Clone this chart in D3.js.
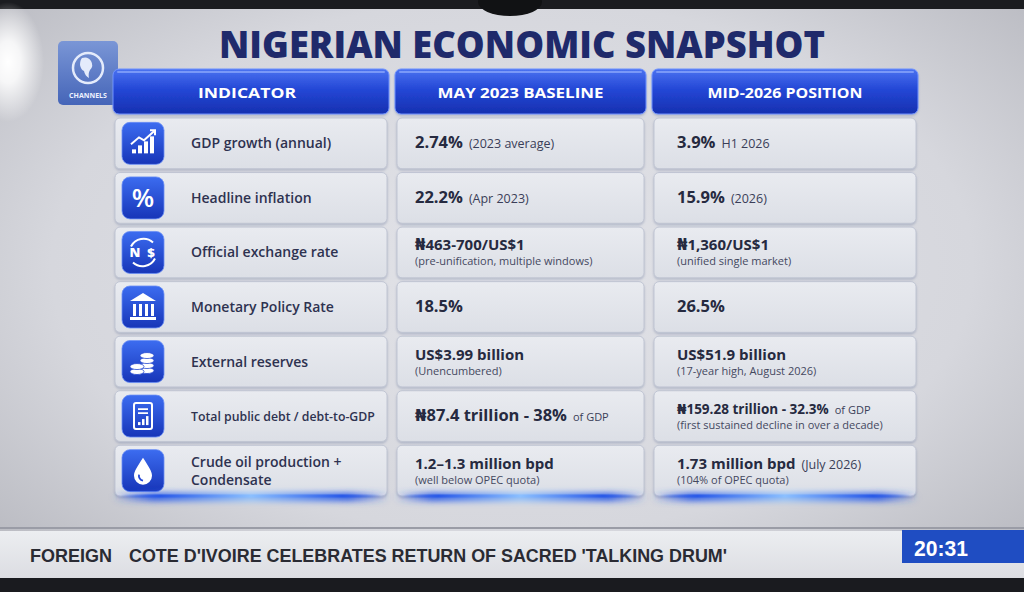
<!DOCTYPE html>
<html>
<head>
<meta charset="utf-8">
<script src="https://cdn.jsdelivr.net/npm/d3@7"></script>
<style>
  html, body { margin: 0; padding: 0; background: #16171a; }
  svg { display: block; }
</style>
</head>
<body>
<svg id="snap"></svg>
<script>
/* Nigerian economic snapshot table, drawn with d3. */
var columns = ["INDICATOR", "MAY 2023 BASELINE", "MID-2026 POSITION"];
var indicators = [
  ["GDP growth (annual)"],
  ["Headline inflation"],
  ["Official exchange rate"],
  ["Monetary Policy Rate"],
  ["External reserves"],
  ["Total public debt / debt-to-GDP"],
  ["Crude oil production +", "Condensate"]
];
var iconKinds = ["chart", "pct", "fx", "bank", "coins", "doc", "drop"];

var baselineMain = ["2.74%", "22.2%", "\u20A6463-700/US$1", "18.5%", "US$3.99 billion", "\u20A687.4 trillion - 38%", "1.2\u20131.3 million bpd"];
var baselineInline = ["(2023 average)", "(Apr 2023)", "", "", "", "of GDP", ""];
var baselineSub = ["", "", "(pre-unification, multiple windows)", "", "(Unencumbered)", "", "(well below OPEC quota)"];

var positionMain = ["3.9%", "15.9%", "\u20A61,360/US$1", "26.5%", "US$51.9 billion", "\u20A6159.28 trillion - 32.3%", "1.73 million bpd"];
var positionInline = ["H1 2026", "(2026)", "", "", "", "of GDP", "(July 2026)"];
var positionSub = ["", "", "(unified single market)", "", "(17-year high, August 2026)", "(first sustained decline in over a decade)", "(104% of OPEC quota)"];

var tickerTag = "FOREIGN";
var tickerText = "COTE D'IVOIRE CELEBRATES RETURN OF SACRED 'TALKING DRUM'";
var clockText = "20:31";

(function () {
  var W = 1024, H = 592;
  var svg = d3.select("#snap").attr("width", W).attr("height", H)
    .attr("viewBox", [0, 0, W, H]);
  var defs = svg.append("defs");

  function linGrad(id, stops, vertical) {
    var g = defs.append("linearGradient").attr("id", id)
      .attr("x1", 0).attr("y1", 0)
      .attr("x2", vertical ? 0 : 1).attr("y2", vertical ? 1 : 0);
    stops.forEach(function (s) {
      g.append("stop").attr("offset", s[0]).attr("stop-color", s[1])
        .attr("stop-opacity", s[2] == null ? 1 : s[2]);
    });
  }
  function radGrad(id, stops, cx, cy, r) {
    var g = defs.append("radialGradient").attr("id", id)
      .attr("cx", cx).attr("cy", cy).attr("r", r);
    stops.forEach(function (s) {
      g.append("stop").attr("offset", s[0]).attr("stop-color", s[1])
        .attr("stop-opacity", s[2] == null ? 1 : s[2]);
    });
  }

  radGrad("bgGrad", [[0, "#e2e3e8"], [0.6, "#d6d7dd"], [1, "#b2b3ba"]], "50%", "45%", "75%");
  radGrad("glare", [[0, "#ffffff", 1], [0.35, "#ffffff", 0.85], [1, "#ffffff", 0]], "50%", "50%", "50%");
  linGrad("headGrad", [[0, "#4a72f0"], [0.45, "#2447d6"], [1, "#1630b0"]], true);
  linGrad("cellGrad", [[0, "#e9ebf0"], [1, "#dcdfe6"]], true);
  linGrad("iconGrad", [[0, "#3c6cf0"], [1, "#1735b8"]], true);
  linGrad("logoGrad", [[0, "#7a96d6"], [1, "#4565b8"]], true);
  linGrad("glowGrad", [[0, "#2a5ae8", 0], [0.15, "#2a5ae8", 1], [0.5, "#8cc0ff", 1], [0.85, "#2a5ae8", 1], [1, "#2a5ae8", 0]], false);
  linGrad("tickGrad", [[0, "#eceef1"], [1, "#dcdde2"]], true);

  var shadow = defs.append("filter").attr("id", "soft").attr("x", "-10%").attr("y", "-10%")
    .attr("width", "120%").attr("height", "140%");
  shadow.append("feDropShadow").attr("dx", 0).attr("dy", 1.5).attr("stdDeviation", 1.2)
    .attr("flood-color", "#7d87a6").attr("flood-opacity", 0.45);
  var blur = defs.append("filter").attr("id", "blur").attr("x", "-5%").attr("y", "-100%")
    .attr("width", "110%").attr("height", "300%");
  blur.append("feGaussianBlur").attr("stdDeviation", 3);

  // screen background
  svg.append("rect").attr("width", W).attr("height", H).attr("fill", "url(#bgGrad)");
  svg.append("rect").attr("width", W).attr("height", 9).attr("fill", "#1b1c20");
  svg.append("ellipse").attr("cx", 510).attr("cy", 2).attr("rx", 32).attr("ry", 14).attr("fill", "#111214");
  svg.append("ellipse").attr("cx", 8).attr("cy", 62).attr("rx", 36).attr("ry", 60).attr("fill", "url(#glare)");

  // title
  svg.append("text").attr("x", 522).attr("y", 58).attr("text-anchor", "middle")
    .attr("font-family", "'Open Sans', 'DejaVu Sans', sans-serif").attr("font-weight", 800)
    .attr("font-size", 37).attr("fill", "#1f2a6b")
    .attr("textLength", 606).attr("lengthAdjust", "spacingAndGlyphs")
    .text("NIGERIAN ECONOMIC SNAPSHOT");

  // channel logo
  var logo = svg.append("g").attr("transform", "translate(58,41)");
  logo.append("rect").attr("width", 60).attr("height", 64).attr("rx", 5).attr("fill", "url(#logoGrad)");
  logo.append("circle").attr("cx", 30).attr("cy", 27).attr("r", 15).attr("fill", "none")
    .attr("stroke", "#e4ebfb").attr("stroke-width", 2.5);
  logo.append("path").attr("d", "M24,17 q6,-2 9,3 q3,5 -1,9 q-2,3 -1,8 q-4,-2 -5,-7 q-3,-1 -4,-6 q0,-5 2,-7z")
    .attr("fill", "#e4ebfb");
  logo.append("text").attr("x", 30).attr("y", 57).attr("text-anchor", "middle")
    .attr("font-family", "'Open Sans', sans-serif").attr("font-weight", 700).attr("font-size", 7)
    .attr("fill", "#eef2ff").text("CHANNELS");

  // layout scales
  var colX = d3.scaleOrdinal().domain(columns).range([113, 395, 652]);
  var colW = d3.scaleOrdinal().domain(columns).range([276, 251, 266]);
  var rowIdx = d3.range(indicators.length);
  var y = d3.scaleBand().domain(rowIdx).range([118, 496]).paddingInner(0.07);

  // header row
  var headerWidths = [98, 166, 155];
  var head = svg.append("g").selectAll("g").data(columns).join("g")
    .attr("transform", function (d) { return "translate(" + colX(d) + ",69)"; });
  head.append("rect").attr("width", function (d) { return colW(d); }).attr("height", 45)
    .attr("rx", 6).attr("fill", "url(#headGrad)").attr("stroke", "#6f92ff").attr("stroke-width", 1)
    .attr("filter", "url(#soft)");
  head.append("rect").attr("x", 4).attr("y", 2).attr("width", function (d) { return colW(d) - 8; })
    .attr("height", 2).attr("rx", 1).attr("fill", "#9fb8ff").attr("opacity", 0.6);
  head.append("text")
    .attr("x", function (d, i) { return i === 0 ? 134 : colW(d) / 2; })
    .attr("y", 29).attr("text-anchor", "middle")
    .attr("font-family", "'Open Sans', 'DejaVu Sans', sans-serif").attr("font-weight", 700)
    .attr("font-size", 15).attr("fill", "#ffffff")
    .attr("textLength", function (d, i) { return headerWidths[i]; })
    .attr("lengthAdjust", "spacingAndGlyphs")
    .text(function (d) { return d; });

  // cells
  var rows = svg.append("g").selectAll("g.row").data(rowIdx).join("g").attr("class", "row")
    .attr("transform", function (d) { return "translate(0," + y(d) + ")"; });
  var bh = y.bandwidth();

  columns.forEach(function (c) {
    rows.append("rect").attr("x", colX(c) + 2).attr("width", colW(c) - 4).attr("height", bh)
      .attr("rx", 5).attr("fill", "url(#cellGrad)").attr("stroke", "#c0c5d3").attr("stroke-width", 1)
      .attr("filter", "url(#soft)");
  });

  // icons
  var iconG = rows.append("g")
    .attr("transform", function () { return "translate(122," + (bh / 2 - 21) + ")"; });
  iconG.append("rect").attr("width", 42).attr("height", 42).attr("rx", 8).attr("fill", "url(#iconGrad)")
    .attr("stroke", "#6a8ef5").attr("stroke-width", 0.8);
  iconG.each(function (d) {
    var g = d3.select(this), k = iconKinds[d], wc = "#ffffff";
    if (k === "chart") {
      [[10, 27, 4], [16, 23, 8], [22, 19, 12], [28, 14, 17]].forEach(function (b) {
        g.append("rect").attr("x", b[0]).attr("y", b[1]).attr("width", 4).attr("height", b[2]).attr("fill", wc);
      });
      g.append("path").attr("d", "M9,22 L17,15 L22,18 L32,9").attr("fill", "none")
        .attr("stroke", wc).attr("stroke-width", 2);
      g.append("path").attr("d", "M28,8 L33,8 L33,13").attr("fill", "none").attr("stroke", wc).attr("stroke-width", 2);
    } else if (k === "pct") {
      g.append("text").attr("x", 21).attr("y", 30).attr("text-anchor", "middle")
        .attr("font-family", "'Open Sans', sans-serif").attr("font-weight", 600).attr("font-size", 26)
        .attr("fill", wc).text("%");
    } else if (k === "fx") {
      g.append("path").attr("d", "M9,15 A14,14 0 0 1 31,11").attr("fill", "none").attr("stroke", wc).attr("stroke-width", 2);
      g.append("path").attr("d", "M33,27 A14,14 0 0 1 11,31").attr("fill", "none").attr("stroke", wc).attr("stroke-width", 2);
      g.append("text").attr("x", 13).attr("y", 26).attr("text-anchor", "middle")
        .attr("font-family", "'Open Sans', sans-serif").attr("font-weight", 800).attr("font-size", 13)
        .attr("fill", wc).text("N");
      g.append("text").attr("x", 29).attr("y", 26).attr("text-anchor", "middle")
        .attr("font-family", "'Open Sans', sans-serif").attr("font-weight", 800).attr("font-size", 13)
        .attr("fill", wc).text("$");
    } else if (k === "bank") {
      g.append("path").attr("d", "M8,15 L21,7 L34,15 Z").attr("fill", wc);
      [11, 17, 23, 29].forEach(function (x) {
        g.append("rect").attr("x", x).attr("y", 18).attr("width", 3).attr("height", 12).attr("fill", wc);
      });
      g.append("rect").attr("x", 8).attr("y", 31).attr("width", 26).attr("height", 3).attr("fill", wc);
    } else if (k === "coins") {
      [[25, 30], [25, 25], [25, 20], [25, 15], [15, 31], [15, 26]].forEach(function (p) {
        g.append("ellipse").attr("cx", p[0]).attr("cy", p[1]).attr("rx", 7).attr("ry", 3)
          .attr("fill", wc).attr("stroke", "#2a4bd0").attr("stroke-width", 0.8);
      });
    } else if (k === "doc") {
      g.append("rect").attr("x", 12).attr("y", 8).attr("width", 18).attr("height", 26).attr("rx", 2)
        .attr("fill", "none").attr("stroke", wc).attr("stroke-width", 2);
      g.append("path").attr("d", "M16,14 H26 M16,18 H26").attr("stroke", wc).attr("stroke-width", 1.6);
      [[16, 27, 3], [20, 24, 6], [24, 21, 9]].forEach(function (b) {
        g.append("rect").attr("x", b[0]).attr("y", b[1]).attr("width", 2.5).attr("height", b[2]).attr("fill", wc);
      });
    } else if (k === "drop") {
      g.append("path").attr("d", "M21,8 C26,16 30,21 30,26 A9,9 0 0 1 12,26 C12,21 16,16 21,8 Z").attr("fill", wc);
      g.append("path").attr("d", "M17,25 A5,5 0 0 0 21,31").attr("fill", "none")
        .attr("stroke", "#2447d6").attr("stroke-width", 1.8);
    }
  });

  var labelFont = "'Open Sans', 'DejaVu Sans', sans-serif";

  // indicator labels; a long label gets a smaller size so it stays inside the cell
  rows.each(function (d) {
    var lines = indicators[d], g = d3.select(this);
    var y0 = bh / 2 + 5 - (lines.length - 1) * 9;
    lines.forEach(function (l, i) {
      var t = g.append("text").attr("x", 191).attr("y", y0 + i * 18)
        .attr("font-family", labelFont).attr("font-weight", 600).attr("font-size", 14)
        .attr("fill", "#2e3250").text(l);
      var len = t.node().getComputedTextLength();
      if (len > 184) t.attr("font-size", 14 * 184 / len);
    });
  });

  // value cells: main figure, optional note on the same line, optional note below
  function valueColumn(xOff, mains, inlines, subs) {
    rows.each(function (d) {
      var g = d3.select(this);
      var hasSub = subs[d] !== "";
      var yMain = hasSub ? bh / 2 - 2 : bh / 2 + 5;
      var size = hasSub ? 15 : 16.5;
      var main = g.append("text").attr("x", xOff).attr("y", yMain)
        .attr("font-family", labelFont).attr("font-weight", 700)
        .attr("font-size", size).attr("fill", "#262a40")
        .text(mains[d]);
      var len = main.node().getComputedTextLength();
      if (len > 152) {
        main.attr("font-size", size * 152 / len);
        len = main.node().getComputedTextLength();
      }
      if (inlines[d]) {
        // "of GDP" continues the figure, so it stays small; other notes are a touch larger
        var small = inlines[d] === "of GDP";
        g.append("text").attr("x", xOff + len + 6).attr("y", yMain)
          .attr("font-family", labelFont).attr("font-weight", 500)
          .attr("font-size", small ? 11 : 12.5).attr("fill", "#3a3e58")
          .text(inlines[d]);
      }
      if (hasSub) {
        var s = g.append("text").attr("x", xOff).attr("y", yMain + 15)
          .attr("font-family", labelFont).attr("font-size", 11).attr("fill", "#44485f")
          .text(subs[d]);
        var sl = s.node().getComputedTextLength();
        if (sl > 232) s.attr("font-size", 11 * 232 / sl);
      }
    });
  }
  valueColumn(colX(columns[1]) + 20, baselineMain, baselineInline, baselineSub);
  valueColumn(colX(columns[2]) + 25, positionMain, positionInline, positionSub);

  // blue glow under the table
  columns.forEach(function (c) {
    svg.append("rect").attr("x", colX(c)).attr("y", 493).attr("width", colW(c)).attr("height", 8)
      .attr("rx", 3).attr("fill", "url(#glowGrad)").attr("filter", "url(#blur)");
    svg.append("rect").attr("x", colX(c) + 8).attr("y", 494.5).attr("width", colW(c) - 16).attr("height", 3)
      .attr("rx", 1.5).attr("fill", "url(#glowGrad)");
  });

  // news ticker
  svg.append("rect").attr("x", 0).attr("y", 527).attr("width", W).attr("height", 2).attr("fill", "#9a9ca6");
  svg.append("rect").attr("x", 0).attr("y", 531).attr("width", W).attr("height", 47).attr("fill", "url(#tickGrad)");
  svg.append("rect").attr("x", 0).attr("y", 578).attr("width", W).attr("height", 14).attr("fill", "#1a1b1f");
  svg.append("rect").attr("x", 902).attr("y", 530).attr("width", 122).attr("height", 33).attr("fill", "#1f4dc2");

  var tickFont = "'Liberation Sans Narrow', 'Liberation Sans', 'DejaVu Sans Condensed', sans-serif";
  svg.append("text").attr("x", 30).attr("y", 562).attr("font-family", tickFont).attr("font-weight", 700)
    .attr("font-size", 19).attr("fill", "#2a2b33").attr("textLength", 82).attr("lengthAdjust", "spacingAndGlyphs")
    .text(tickerTag);
  svg.append("text").attr("x", 129).attr("y", 562).attr("font-family", tickFont).attr("font-weight", 700)
    .attr("font-size", 19).attr("fill", "#2a2b33").attr("textLength", 598).attr("lengthAdjust", "spacingAndGlyphs")
    .text(tickerText);
  svg.append("text").attr("x", 914).attr("y", 556).attr("font-family", tickFont).attr("font-weight", 700)
    .attr("font-size", 22).attr("fill", "#ffffff").attr("textLength", 54).attr("lengthAdjust", "spacingAndGlyphs")
    .text(clockText);
})();
</script>
</body>
</html>
